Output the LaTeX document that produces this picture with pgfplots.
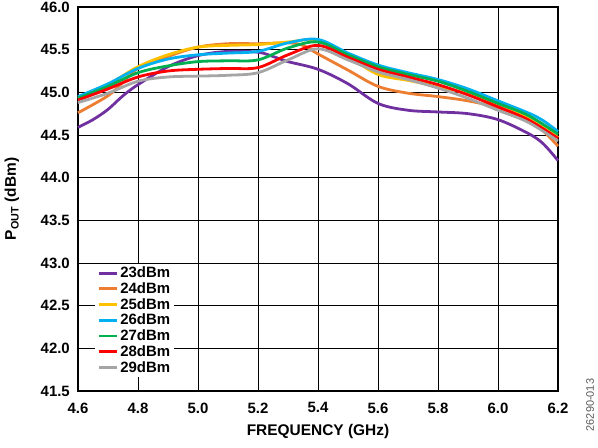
\documentclass[border=0pt]{standalone}
\usepackage{fontspec}
\setmainfont{Liberation Sans}
\usepackage{pgfplots}
\pgfplotsset{compat=1.18}

\definecolor{c23}{HTML}{7030A0}
\definecolor{c24}{HTML}{ED7D31}
\definecolor{c25}{HTML}{FFC000}
\definecolor{c26}{HTML}{00B0F0}
\definecolor{c27}{HTML}{00B050}
\definecolor{c28}{HTML}{FF0000}
\definecolor{c29}{HTML}{A5A5A5}

\begin{document}
\begin{tikzpicture}
\begin{axis}[
  scale only axis,
  width=480bp, height=384bp,
  xmin=4.6, xmax=6.2, ymin=41.5, ymax=46.0,
  xtick={4.6,4.8,...,6.2},
  ytick={41.5,42.0,...,46.0},
  grid=major,
  major grid style={black, line width=0.8bp},
  axis line style={black, line width=1.2bp},
  major tick length=10bp,
  tick style={black, line width=0.8bp},
  tick align=inside,
  /pgf/number format/assume math mode=true,
  /pgf/number format/fixed,
  /pgf/number format/zerofill,
  /pgf/number format/precision=1,
  ticklabel style={font=\fontsize{15}{17}\selectfont\bfseries, inner sep=0pt},
  x tick label style={yshift=-11.5bp},
  y tick label style={xshift=-8bp},
  xlabel={FREQUENCY (GHz)},
  ylabel={P\textsubscript{OUT} (dBm)},
  every axis x label/.style={at={(axis description cs:0.5,0)}, yshift=-41bp, anchor=center,
    font=\fontsize{15.5}{17}\selectfont\bfseries},
  every axis y label/.style={at={(axis description cs:0,0.5)}, xshift=-66bp, rotate=90, anchor=center,
    font=\fontsize{15.5}{17}\selectfont\bfseries},
  clip=false,
  legend cell align=left,
  legend style={at={(rel axis cs:0.036,0.037)}, anchor=south west, draw=none, fill=white,
    font=\fontsize{15}{15.9}\selectfont\bfseries, inner xsep=2bp, inner ysep=1bp,
    row sep=-0.6bp},
  legend image code/.code={\draw[#1, line width=2.8bp] (0bp,0bp) -- (18bp,0bp);},
  every axis plot/.append style={line width=2.8bp, smooth, tension=0.55, no marks},
]
\addplot[c23] coordinates {
(4.6,44.59) (4.65,44.68) (4.7,44.80) (4.75,44.96) (4.8,45.09) (4.9,45.30) (5.0,45.43)
(5.1,45.48) (5.2,45.47) (5.25,45.42) (5.3,45.36) (5.4,45.27) (5.5,45.10) (5.6,44.87)
(5.7,44.79) (5.8,44.77) (5.9,44.75) (6.0,44.68) (6.1,44.52) (6.15,44.40) (6.2,44.20)};
\addplot[c24] coordinates {
(4.6,44.76) (4.7,44.96) (4.75,45.12) (4.8,45.28) (4.9,45.42) (5.0,45.53) (5.1,45.57)
(5.2,45.57) (5.3,45.58) (5.35,45.55) (5.4,45.45) (5.5,45.26) (5.6,45.07) (5.7,44.99)
(5.8,44.95) (5.9,44.90) (6.0,44.82) (6.1,44.68) (6.15,44.55) (6.2,44.37)};
\addplot[c25] coordinates {
(4.6,44.93) (4.7,45.09) (4.8,45.30) (4.9,45.44) (5.0,45.53) (5.1,45.55) (5.2,45.56)
(5.3,45.59) (5.4,45.61) (5.5,45.42) (5.6,45.21) (5.7,45.14) (5.8,45.07) (5.9,44.98)
(6.0,44.84) (6.1,44.70) (6.2,44.47)};
\addplot[c26] coordinates {
(4.6,44.95) (4.7,45.10) (4.8,45.28) (4.9,45.39) (5.0,45.44) (5.1,45.46) (5.2,45.48)
(5.3,45.58) (5.4,45.62) (5.5,45.46) (5.6,45.32) (5.7,45.23) (5.8,45.15) (5.9,45.04)
(6.0,44.90) (6.1,44.76) (6.15,44.67) (6.2,44.54)};
\addplot[c27] coordinates {
(4.6,44.93) (4.7,45.07) (4.8,45.23) (4.9,45.31) (5.0,45.36) (5.1,45.37) (5.2,45.38)
(5.3,45.52) (5.4,45.59) (5.5,45.44) (5.6,45.30) (5.7,45.21) (5.8,45.13) (5.9,45.01)
(6.0,44.87) (6.1,44.73) (6.2,44.51)};
\addplot[c28] coordinates {
(4.6,44.91) (4.7,45.04) (4.8,45.18) (4.9,45.25) (5.0,45.27) (5.1,45.28) (5.2,45.29)
(5.3,45.44) (5.4,45.55) (5.5,45.41) (5.6,45.27) (5.7,45.18) (5.8,45.09) (5.9,44.97)
(6.0,44.83) (6.1,44.68) (6.2,44.46)};
\addplot[c29] coordinates {
(4.6,44.88) (4.7,44.99) (4.8,45.13) (4.9,45.18) (5.0,45.19) (5.1,45.20) (5.2,45.23)
(5.3,45.38) (5.4,45.51) (5.5,45.38) (5.6,45.24) (5.7,45.15) (5.8,45.05) (5.9,44.93)
(6.0,44.79) (6.1,44.65) (6.2,44.43)};
\legend{23dBm,24dBm,25dBm,26dBm,27dBm,28dBm,29dBm}
\node[rotate=90, font=\fontsize{11}{12}\selectfont, text=black!65, inner sep=0pt]
  at (rel axis cs:1.0667,-0.0365) {26290-013};
\end{axis}
\pgfresetboundingbox
\path (-78bp,-57bp) rectangle (520bp,391bp);
\end{tikzpicture}
\end{document}
